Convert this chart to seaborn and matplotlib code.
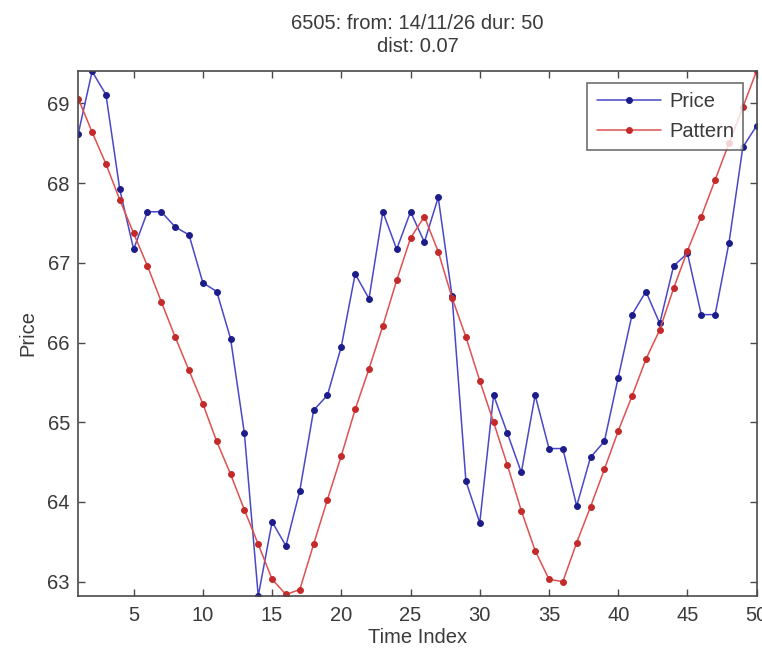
import matplotlib
matplotlib.use("Agg")
import matplotlib.pyplot as plt
import seaborn as sns
import pandas as pd

# Time index of the 50-sample window
time_index = list(range(1, 51))

# Observed price over the window
price = [68.62, 69.40, 69.11, 67.92, 67.17, 67.64, 67.64, 67.45, 67.35, 66.75,
         66.64, 66.05, 64.86, 62.82, 63.75, 63.45, 64.14, 65.15, 65.34, 65.95,
         66.86, 66.55, 67.64, 67.17, 67.64, 67.26, 67.82, 66.58, 64.26, 63.74,
         65.34, 64.86, 64.37, 65.34, 64.67, 64.67, 63.95, 64.56, 64.76, 65.56,
         66.35, 66.64, 66.24, 66.96, 67.12, 66.35, 66.35, 67.25, 68.45, 68.72]

# Fitted pattern over the same window
pattern = [69.06, 68.64, 68.24, 67.79, 67.37, 66.96, 66.51, 66.07, 65.65, 65.23,
           64.76, 64.35, 63.90, 63.47, 63.03, 62.84, 62.90, 63.47, 64.03, 64.58,
           65.16, 65.67, 66.21, 66.78, 67.31, 67.58, 67.14, 66.56, 66.07, 65.52,
           65.00, 64.46, 63.89, 63.39, 63.03, 63.00, 63.49, 63.94, 64.41, 64.89,
           65.33, 65.79, 66.16, 66.68, 67.15, 67.58, 68.04, 68.50, 68.95, 69.41]

x_ticks = [5, 10, 15, 20, 25, 30, 35, 40, 45, 50]
y_ticks = [63, 64, 65, 66, 67, 68, 69]

title_lines = ["6505: from: 14/11/26 dur: 50", "dist: 0.07"]

sns.set_theme(style="white")
plt.rcParams["font.family"] = ["Liberation Sans", "DejaVu Sans"]
text_color = "#3a3a3a"
axis_color = "#4a4a4a"

df = pd.DataFrame({"t": time_index, "Price": price, "Pattern": pattern})

fig = plt.figure(figsize=(7.62, 6.48), dpi=100)
ax = fig.add_axes([0.1027, 0.0802, 0.8903, 0.8107])

sns.lineplot(data=df, x="t", y="Price", ax=ax, color="#4848c8", linewidth=1.1,
             marker="o", markersize=4.2, markerfacecolor="#1c1c8a",
             markeredgecolor="#1c1c8a", label="Price")
sns.lineplot(data=df, x="t", y="Pattern", ax=ax, color="#e05050", linewidth=1.1,
             marker="o", markersize=4.2, markerfacecolor="#c42a2a",
             markeredgecolor="#c42a2a", label="Pattern")

all_vals = price + pattern
ax.set_xlim(min(time_index), max(time_index))
ax.set_ylim(min(all_vals), max(all_vals))
ax.set_xticks(x_ticks)
ax.set_yticks(y_ticks)

ax.tick_params(axis="both", which="both", direction="in", length=5, width=1.0,
               color=axis_color, labelsize=14.5, labelcolor=text_color,
               top=True, right=True, bottom=True, left=True)
ax.tick_params(axis="x", pad=7)
ax.tick_params(axis="y", pad=6)

for sp in ax.spines.values():
    sp.set_visible(True)
    sp.set_color(axis_color)
    sp.set_linewidth(1.2)

ax.set_xlabel("Time Index", fontsize=14.5, color=text_color, labelpad=2)
ax.set_ylabel("Price", fontsize=14.5, color=text_color, labelpad=7)
ax.set_title("\n".join(title_lines), fontsize=14.5, color=text_color,
             linespacing=1.25, pad=13.5)

leg = ax.legend(loc="upper right", bbox_to_anchor=(0.98, 0.977), borderaxespad=0,
                fontsize=14.5, frameon=True, fancybox=False, handlelength=3.2,
                handletextpad=0.4, borderpad=0.45, labelspacing=0.55,
                markerscale=1.0)
leg.get_frame().set_edgecolor(axis_color)
leg.get_frame().set_linewidth(1.2)
for t in leg.get_texts():
    t.set_color(text_color)

fig.savefig("out.png", dpi=100)
